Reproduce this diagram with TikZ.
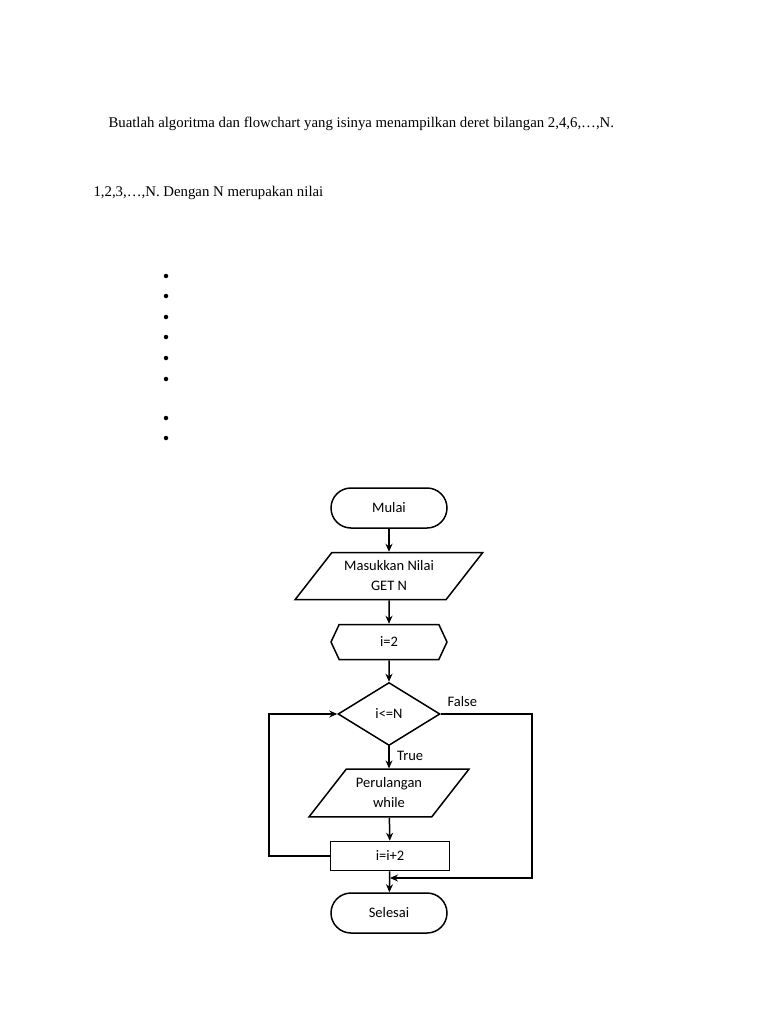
\documentclass[tikz,border=0pt]{standalone}
\usepackage{fontspec}
\setmainfont{Liberation Serif}
\newfontfamily\chartfont{Carlito}
\usetikzlibrary{shapes.geometric, shapes.symbols, arrows.meta, positioning}
\tikzset{
    chart/.style={draw, line width=1.5pt, font=\chartfont\fontsize{14.5}{20}\selectfont, align=center},
    terminal/.style={chart, rectangle, rounded corners=20pt, minimum width=116pt, minimum height=40pt},
    io/.style={chart, trapezium, trapezium left angle=52, trapezium right angle=128, minimum width=160pt, minimum height=47pt, inner xsep=0pt},
    prep/.style={chart, signal, signal to=east and west, signal pointer angle=130, minimum width=116pt, minimum height=35pt},
    decision/.style={chart, diamond, aspect=1.62, minimum width=102pt, minimum height=63pt, inner sep=0pt},
    process/.style={chart, rectangle, minimum width=119pt, minimum height=29pt},
    flow/.style={-{Stealth[length=8pt,width=7pt]}, line width=1.5pt},
    label/.style={font=\chartfont\fontsize{14.5}{18}\selectfont},
    bullet/.style={circle, fill, inner sep=0pt, minimum size=4.5pt}
}
\begin{document}
\begin{tikzpicture}[x=1pt, y=-1pt]
    \useasboundingbox (0,0) rectangle (768,1024);
    % Question text
    \node[anchor=west, font=\fontsize{14.8}{18}\selectfont] (q1) at (105,124) {Buatlah algoritma dan flowchart yang isinya menampilkan deret bilangan 2,4,6,\ldots,N.};
    \node[anchor=west, font=\fontsize{14.8}{18}\selectfont] (q2) at (90,193) {1,2,3,\ldots,N. Dengan N merupakan nilai};
    % Bullets
    \foreach \y [count=\i] in {276,296,317,337,358,379,418,438}
        \node[bullet] (b\i) at (166,\y) {};
    % Flowchart
    \node[terminal] (start) at (389,508) {Mulai};
    \node[io] (input) at (389,576) {Masukkan Nilai\\GET N};
    \node[prep] (init) at (389,642) {i=2};
    \node[decision] (cond) at (389,714) {i<=N};
    \node[io] (loop) at (389,793) {Perulangan\\while};
    \node[process] (incr) at (390,856) {i=i+2};
    \node[terminal] (stop) at (389,913) {Selesai};
    \coordinate (merge) at (390,878);
    % Connections
    \draw[flow] (start) -- (input);
    \draw[flow] (input) -- (init);
    \draw[flow] (init) -- (cond);
    \draw[flow] (cond) -- (loop) node[label, pos=0.45, right=4pt] {True};
    \draw[flow] (loop) -- (incr);
    \draw[flow] (incr) -- (stop);
    \draw[flow] (incr.west) -- ++(-61,0) |- (cond.west);
    \draw[flow] (cond.east) -- ++(91,0) |- (merge);
    \node[label, anchor=south west] (false) at (444,710) {False};
\end{tikzpicture}
\end{document}
